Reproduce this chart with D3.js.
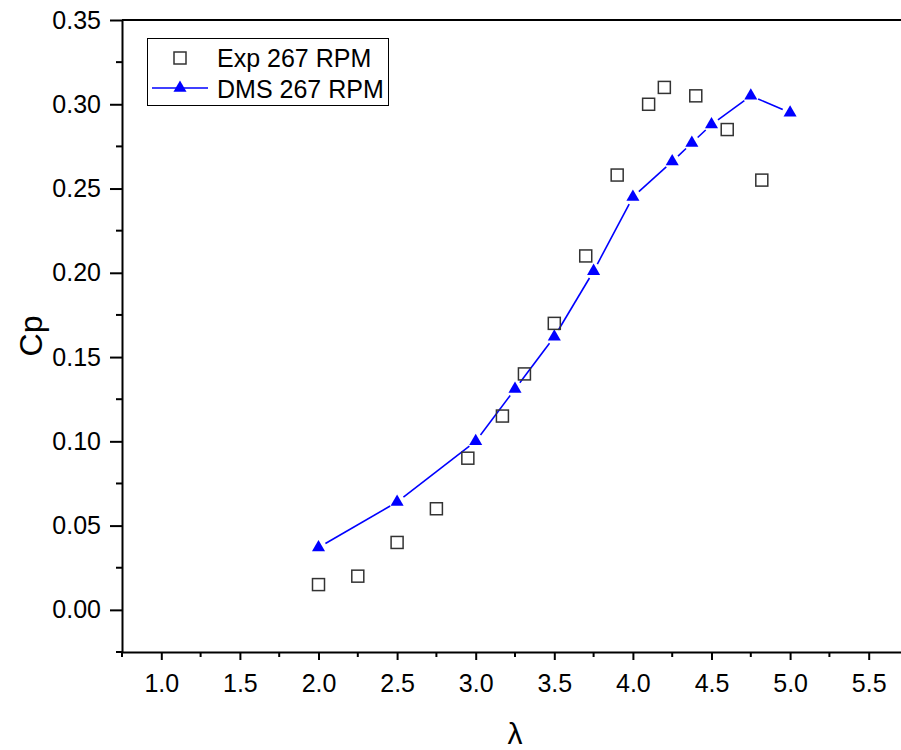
<!DOCTYPE html>
<html>
<head>
<meta charset="utf-8">
<script src="https://cdn.jsdelivr.net/npm/d3@7"></script>
<style>
  html, body { margin: 0; padding: 0; background: #fff; }
  svg { display: block; font-family: Arial, "Liberation Sans", sans-serif; }
</style>
</head>
<body>
<svg id="chart" width="901" height="750"></svg>
<script>
// Experimental power coefficient, 267 RPM
const expLambda = [2.0, 2.25, 2.5, 2.75, 2.95, 3.17, 3.31, 3.5, 3.7, 3.9, 4.1, 4.2, 4.4, 4.6, 4.82];
const expCp     = [0.015, 0.020, 0.040, 0.060, 0.090, 0.115, 0.140, 0.170, 0.210, 0.258, 0.300, 0.310, 0.305, 0.285, 0.255];

// Double-multiple-streamtube model, 267 RPM
const dmsLambda = [2.0, 2.5, 3.0, 3.25, 3.5, 3.75, 4.0, 4.25, 4.375, 4.5, 4.75, 5.0];
const dmsCp     = [0.037, 0.064, 0.100, 0.131, 0.162, 0.201, 0.245, 0.266, 0.277, 0.288, 0.305, 0.295];

const xTicks = [1.0, 1.5, 2.0, 2.5, 3.0, 3.5, 4.0, 4.5, 5.0, 5.5];
const yTicks = [0.00, 0.05, 0.10, 0.15, 0.20, 0.25, 0.30, 0.35];
const legendLabels = ["Exp 267 RPM", "DMS 267 RPM"];

const svg = d3.select("#chart");
const plotLeft = 122, plotRight = 908, plotTop = 20, plotBottom = 652;

const x = d3.scaleLinear().domain([0.75, 5.75]).range([plotLeft, plotRight]);
const y = d3.scaleLinear().domain([-0.025, 0.35]).range([plotBottom, plotTop]);

const fontSize = 25;

// Frame: top edge
svg.append("line").attr("x1", plotLeft).attr("x2", plotRight).attr("y1", plotTop).attr("y2", plotTop)
  .attr("stroke", "#000").attr("stroke-width", 2);

// Bottom axis
const xMinor = d3.range(0.75, 5.76, 0.25).filter(v => !xTicks.some(t => Math.abs(t - v) < 1e-6));
const gx = svg.append("g").attr("transform", `translate(0,${plotBottom})`);
gx.call(d3.axisBottom(x).tickValues(xTicks).tickFormat(d3.format(".1f")).tickSize(8).tickPadding(14).tickSizeOuter(0));
gx.select(".domain").attr("stroke-width", 2);
gx.selectAll(".tick line").attr("stroke-width", 2);
gx.selectAll(".tick text").attr("font-size", fontSize).attr("fill", "#000").attr("font-family", "Arial, 'Liberation Sans', sans-serif");
gx.selectAll(".minor").data(xMinor).enter().append("line")
  .attr("x1", d => x(d)).attr("x2", d => x(d)).attr("y1", 0).attr("y2", 5)
  .attr("stroke", "#000").attr("stroke-width", 2);

// Left axis
const yMinor = d3.range(-0.025, 0.351, 0.025).filter(v => !yTicks.some(t => Math.abs(t - v) < 1e-6));
const gy = svg.append("g").attr("transform", `translate(${plotLeft},0)`);
gy.call(d3.axisLeft(y).tickValues(yTicks).tickFormat(d3.format(".2f")).tickSize(12).tickPadding(9).tickSizeOuter(0));
gy.select(".domain").attr("stroke-width", 2);
gy.selectAll(".tick line").attr("stroke-width", 2);
gy.selectAll(".tick text").attr("font-size", fontSize).attr("fill", "#000").attr("font-family", "Arial, 'Liberation Sans', sans-serif");
gy.selectAll(".minor").data(yMinor).enter().append("line")
  .attr("x1", 0).attr("x2", -6).attr("y1", d => y(d)).attr("y2", d => y(d))
  .attr("stroke", "#000").attr("stroke-width", 2);

// Axis titles
svg.append("text").attr("transform", `translate(42,${(plotTop + plotBottom) / 2}) rotate(-90)`)
  .attr("text-anchor", "middle").attr("font-size", 32).text("Cp");
svg.append("text").attr("x", (plotLeft + plotRight) / 2).attr("y", 744)
  .attr("text-anchor", "middle").attr("font-size", 30).text("λ");

// DMS line, broken a little around each marker
const dms = dmsLambda.map((l, i) => [x(l), y(dmsCp[i])]);
const gap = 8;
const lineG = svg.append("g");
for (let i = 0; i < dms.length - 1; i++) {
  const [x1, y1] = dms[i], [x2, y2] = dms[i + 1];
  const len = Math.hypot(x2 - x1, y2 - y1);
  if (len <= 2 * gap) continue;
  const ux = (x2 - x1) / len, uy = (y2 - y1) / len;
  lineG.append("line")
    .attr("x1", x1 + ux * gap).attr("y1", y1 + uy * gap)
    .attr("x2", x2 - ux * gap).attr("y2", y2 - uy * gap)
    .attr("stroke", "#0000ff").attr("stroke-width", 1.6);
}

const tri = d3.symbol().type(d3.symbolTriangle).size(74);
svg.append("g").selectAll("path").data(dms).enter().append("path")
  .attr("d", tri).attr("transform", d => `translate(${d[0]},${d[1]})`)
  .attr("fill", "#0000ff");

// Experimental squares
const sq = 12;
svg.append("g").selectAll("rect").data(expLambda.map((l, i) => [x(l), y(expCp[i])])).enter().append("rect")
  .attr("x", d => d[0] - sq / 2).attr("y", d => d[1] - sq / 2)
  .attr("width", sq).attr("height", sq)
  .attr("fill", "none").attr("stroke", "#333").attr("stroke-width", 1.5);

// Legend
const lg = svg.append("g");
lg.append("rect").attr("x", 147.5).attr("y", 38.5).attr("width", 241).attr("height", 67)
  .attr("fill", "#fff").attr("stroke", "#000").attr("stroke-width", 1);
lg.append("rect").attr("x", 180 - sq / 2).attr("y", 58 - sq / 2).attr("width", sq).attr("height", sq)
  .attr("fill", "none").attr("stroke", "#333").attr("stroke-width", 1.5);
lg.append("line").attr("x1", 152).attr("x2", 208).attr("y1", 88).attr("y2", 88)
  .attr("stroke", "#0000ff").attr("stroke-width", 1.6);
lg.append("path").attr("d", tri).attr("transform", "translate(180,88)").attr("fill", "#0000ff");
lg.selectAll("text.lab").data(legendLabels).enter().append("text")
  .attr("x", 217).attr("y", (d, i) => 67 + i * 31)
  .attr("font-size", fontSize).text(d => d);
</script>
</body>
</html>
